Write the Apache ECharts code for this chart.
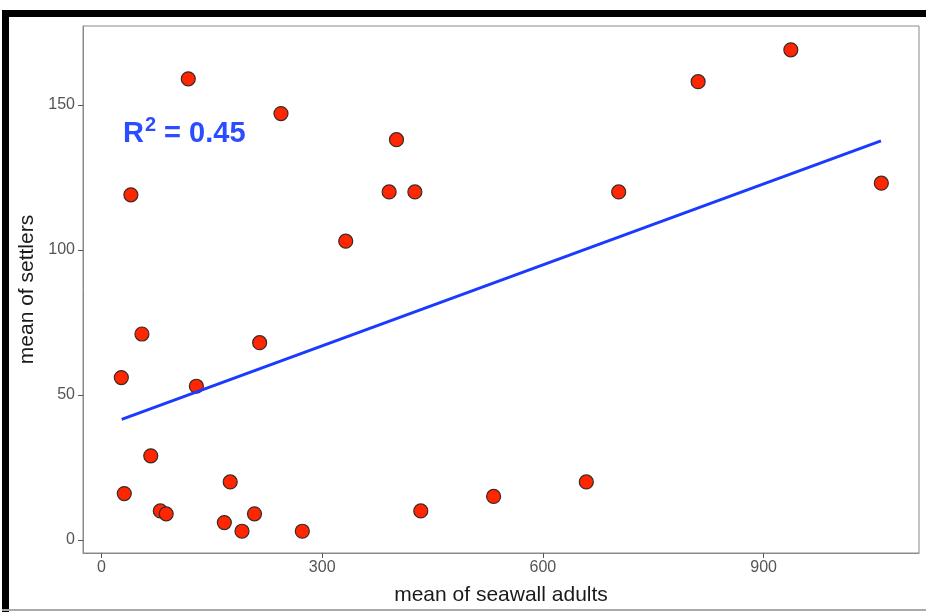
<!DOCTYPE html>
<html><head><meta charset="utf-8">
<script src="https://cdn.jsdelivr.net/npm/echarts@6/dist/echarts.min.js"></script>
<style>html,body{margin:0;padding:0;background:#fff}#c{width:926px;height:612px}</style>
</head><body><div id="c"></div>
<script>
const adults   = [27, 31, 40, 55, 67, 80, 88, 118, 129, 167, 175, 191, 208, 215, 244, 273, 332, 391, 401, 426, 434, 533, 659, 703, 811, 937, 1060];
const settlers = [56, 16, 119, 71, 29, 10, 9, 159, 53, 6, 20, 3, 9, 68, 147, 3, 103, 120, 138, 120, 10, 15, 20, 120, 158, 169, 123];
const fitX = [27.5, 1059.5];
const fitY = [41.6, 137.6];
const xTicks = [0, 300, 600, 900];
const yTicks = [0, 50, 100, 150];
const xTitle = 'mean of seawall adults';
const yTitle = 'mean of settlers';

const pts = adults.map((x, i) => [x, settlers[i]]);
const fit = fitX.map((x, i) => [x, fitY[i]]);

const chart = echarts.init(document.getElementById('c'));
const axisCommon = {
  axisLine: {show: true, onZero: false, lineStyle: {color: '#8a8a8a', width: 1}},
  splitLine: {show: false},
  axisTick: {show: true, length: 5, lineStyle: {color: '#555', width: 1}},
  nameTextStyle: {fontFamily: 'Liberation Sans', fontSize: 21, color: '#1a1a1a'}
};
chart.setOption({
  animation: false,
  backgroundColor: '#fff',
  grid: {left: 83, right: 7, top: 26, bottom: 59, show: true, borderColor: '#8a8a8a', borderWidth: 1},
  xAxis: Object.assign({}, axisCommon, {
    type: 'value', min: -25.1, max: 1111.2,
    name: xTitle, nameLocation: 'middle', nameGap: 32,
    axisTick: Object.assign({}, axisCommon.axisTick, {customValues: xTicks}),
    axisLabel: {customValues: xTicks, fontFamily: 'Liberation Sans', fontSize: 16, color: '#555', margin: 7}
  }),
  yAxis: Object.assign({}, axisCommon, {
    type: 'value', min: -4.5, max: 177.2,
    name: yTitle, nameLocation: 'middle', nameGap: 41, nameRotate: 90,
    axisTick: Object.assign({}, axisCommon.axisTick, {customValues: yTicks}),
    axisLabel: {customValues: yTicks, fontFamily: 'Liberation Sans', fontSize: 16, color: '#555', margin: 8}
  }),
  graphic: [
    {type: 'rect', shape: {x: 2, y: 10, width: 924, height: 7}, style: {fill: '#000'}, z: 100},
    {type: 'rect', shape: {x: 2, y: 10, width: 7, height: 602}, style: {fill: '#000'}, z: 100},
    {type: 'rect', shape: {x: 2, y: 609, width: 924, height: 2}, style: {fill: '#aaa'}, z: 100},
    {type: 'text', left: 123, top: 112, z: 50,
      style: {
        text: '{b|R}{s|2}{b| = 0.45}',
        rich: {
          b: {fontFamily: 'Liberation Sans', fontWeight: 'bold', fontSize: 29, fill: '#2a4dff', lineHeight: 36, verticalAlign: 'bottom'},
          s: {fontFamily: 'Liberation Sans', fontWeight: 'bold', fontSize: 20, fill: '#2a4dff', lineHeight: 20, verticalAlign: 'top', padding: [3, 0, 0, 1]}
        }
      }}
  ],
  series: [
    {type: 'scatter', data: pts, symbol: 'circle', symbolSize: 14, z: 2,
     itemStyle: {color: '#ff2600', borderColor: '#3a2a2a', borderWidth: 1.2, opacity: 1}},
    {type: 'line', data: fit, showSymbol: false, symbol: 'none', z: 3,
     lineStyle: {color: '#1a3aff', width: 3}}
  ]
});
</script>
</body></html>
